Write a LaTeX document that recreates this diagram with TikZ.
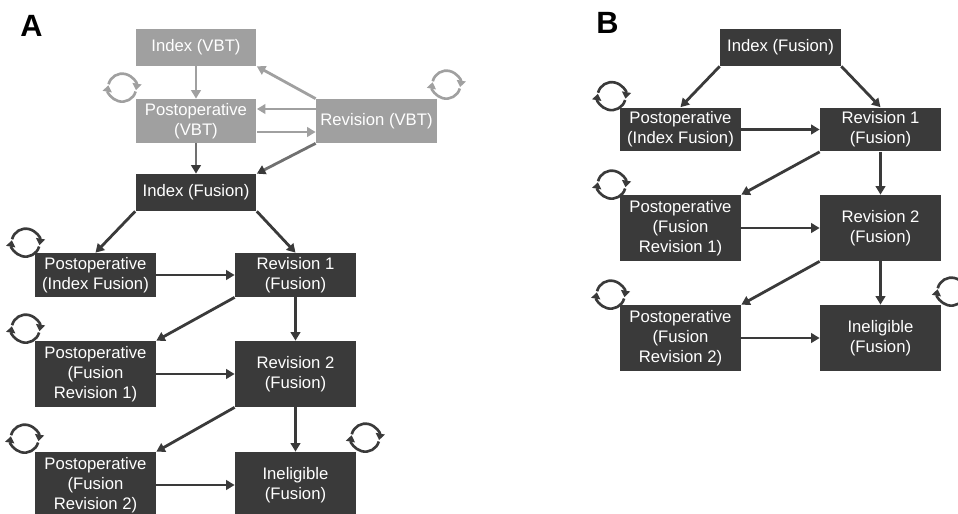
\documentclass[tikz,border=0pt]{standalone}
\usepackage{fontspec}
\setmainfont{Liberation Sans}
\usetikzlibrary{arrows.meta}

\definecolor{vbtgray}{HTML}{A0A0A0}
\definecolor{fusdark}{HTML}{3A3A3A}
\definecolor{midgray}{HTML}{707070}

% two half circles with arrow heads, drawn above a box corner
\newcommand{\selfloop}[2]{%
  \draw[loopline,#1] (#2) ++(-166:14) arc[start angle=-166, end angle=10, radius=14];
  \draw[loopline,#1] (#2) ++(16:14) arc[start angle=16, end angle=190, radius=14];
}

\begin{document}
\begin{tikzpicture}[x=0.02cm, y=-0.02cm,
    box/.style={rectangle, text=white, align=center, inner sep=0pt,
      minimum width=2.42cm, font=\fontsize{9.5}{11.4}\selectfont},
    short/.style={minimum height=0.74cm},
    mid/.style={minimum height=0.88cm},
    tall/.style={minimum height=1.32cm},
    tip/.style={-{Triangle[length=1.7mm, width=1.9mm]}},
    darktip/.style={-{Triangle[length=1.7mm, width=1.9mm, color=fusdark]}},
    loopline/.style={line width=1.5pt, -{Triangle[length=1.3mm, width=1.8mm]}},
    panel/.style={font=\fontsize{17.5}{20}\selectfont\bfseries}]

  \useasboundingbox (0,0) rectangle (958,514);

  \node[panel] (labA) at (31.5,26) {A};
  \node[panel] (labB) at (607.5,22.5) {B};

  % panel A
  \begin{scope}[every node/.style={box, fill=vbtgray}]
    \node[short] (ivbt) at (196,47.5)  {Index (VBT)};
    \node[mid]   (pvbt) at (196,121)   {Postoperative\\(VBT)};
    \node[mid]   (rvbt) at (376.5,121) {Revision (VBT)};
  \end{scope}

  \begin{scope}[every node/.style={box, fill=fusdark}]
    \node[short] (ifus) at (196,192.5)  {Index (Fusion)};
    \node[mid]   (pif)  at (95.5,275)   {Postoperative\\(Index Fusion)};
    \node[mid]   (r1)   at (295.5,275)  {Revision 1\\(Fusion)};
    \node[tall]  (pr1)  at (95.5,374)   {Postoperative\\(Fusion\\Revision 1)};
    \node[tall]  (r2)   at (295.5,374)  {Revision 2\\(Fusion)};
    \node[tall]  (pr2)  at (95.5,485)   {Postoperative\\(Fusion\\Revision 2)};
    \node[tall]  (inel) at (295.5,485)  {Ineligible\\(Fusion)};
  \end{scope}

  % panel B
  \begin{scope}[every node/.style={box, fill=fusdark}]
    \node[short] (bifus) at (780.5,47.5) {Index (Fusion)};
    \node[mid]   (bpif)  at (680.5,129.5) {Postoperative\\(Index Fusion)};
    \node[mid]   (br1)   at (880.5,129.5) {Revision 1\\(Fusion)};
    \node[tall]  (bpr1)  at (680.5,228)  {Postoperative\\(Fusion\\Revision 1)};
    \node[tall]  (br2)   at (880.5,228)  {Revision 2\\(Fusion)};
    \node[tall]  (bpr2)  at (680.5,338)  {Postoperative\\(Fusion\\Revision 2)};
    \node[tall]  (binel) at (880.5,338)  {Ineligible\\(Fusion)};
  \end{scope}

  \begin{scope}[every edge/.style={draw, line width=1.6pt, tip}]
    \path[vbtgray] (ivbt) edge (pvbt)
      (rvbt.north west) edge (ivbt.south east)
      ([yshift=2.4mm]rvbt.west) edge ([yshift=2.4mm]pvbt.east)
      ([yshift=-2.2mm]pvbt.east) edge ([yshift=-2.2mm]rvbt.west);
    \path[midgray] (pvbt) edge[darktip] (ifus)
      (rvbt.south west) edge[darktip] (ifus.north east);
    \path[fusdark] (ifus.south west) edge (pif.north)
      (ifus.south east) edge (r1.north)
      (pif) edge (r1)
      (r1.south west) edge (pr1.north east)
      (r1) edge (r2)
      (pr1) edge (r2)
      (r2.south west) edge (pr2.north east)
      (r2) edge (inel)
      (pr2) edge (inel);
    \path[fusdark] (bifus.south west) edge (bpif.north)
      (bifus.south east) edge (br1.north)
      (bpif) edge (br1)
      (br1.south west) edge (bpr1.north east)
      (br1) edge (br2)
      (bpr1) edge (br2)
      (br2.south west) edge (bpr2.north east)
      (br2) edge (binel)
      (bpr2) edge (binel);
  \end{scope}

  \selfloop{vbtgray}{[shift={(-13,-11)}]pvbt.north west}
  \selfloop{vbtgray}{[shift={(9,-14)}]rvbt.north east}
  \selfloop{fusdark}{[shift={(-9,-10)}]pif.north west}
  \selfloop{fusdark}{[shift={(-9,-12)}]pr1.north west}
  \selfloop{fusdark}{[shift={(-10,-13)}]pr2.north west}
  \selfloop{fusdark}{[shift={(9,-14)}]inel.north east}
  \selfloop{fusdark}{[shift={(-8,-11)}]bpif.north west}
  \selfloop{fusdark}{[shift={(-8,-10)}]bpr1.north west}
  \selfloop{fusdark}{[shift={(-9,-10)}]bpr2.north west}
  \selfloop{fusdark}{[shift={(10,-13)}]binel.north east}

\end{tikzpicture}
\end{document}
